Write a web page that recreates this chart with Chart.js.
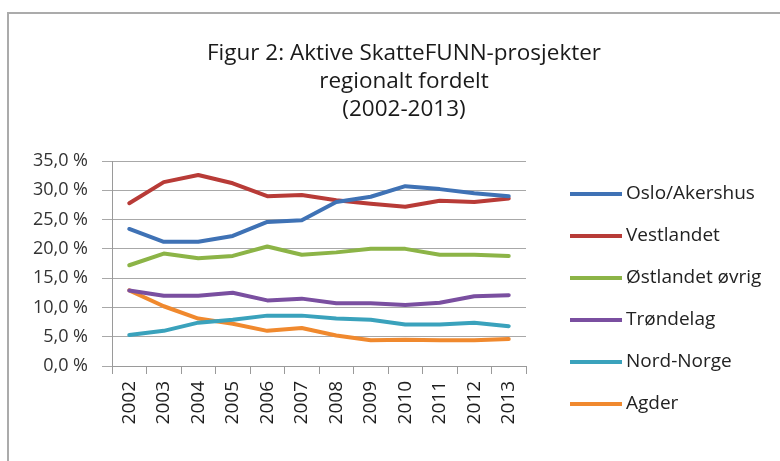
<!DOCTYPE html>
<html>
<head>
<meta charset="utf-8">
<script src="https://cdn.jsdelivr.net/npm/chart.js@4"></script>
<style>
    body { margin: 0; background: #fff; }
    .ramme { position: absolute; left: 7px; top: 12px; width: 800px; height: 460px; border-left: 2px solid #ababab; border-top: 2px solid #ababab; }
    #graf { position: absolute; left: 0; top: 0; }
</style>
</head>
<body>
<div class="ramme"></div>
<canvas id="graf" width="780" height="461"></canvas>
<script>
// Data lest av fra figuren (andel aktive prosjekter, %)
const aar = ['2002', '2003', '2004', '2005', '2006', '2007', '2008', '2009', '2010', '2011', '2012', '2013'];
const regioner = ['Oslo/Akershus', 'Vestlandet', 'Østlandet øvrig', 'Trøndelag', 'Nord-Norge', 'Agder'];
const osloAkershus = [23.4, 21.2, 21.2, 22.2, 24.6, 24.9, 28.0, 28.9, 30.7, 30.2, 29.5, 29.0];
const vestlandet = [27.8, 31.4, 32.6, 31.2, 29.0, 29.2, 28.3, 27.7, 27.2, 28.2, 28.0, 28.6];
const ostlandetOvrig = [17.2, 19.2, 18.4, 18.8, 20.4, 19.0, 19.4, 20.0, 20.0, 19.0, 19.0, 18.8];
const trondelag = [12.9, 12.0, 12.0, 12.5, 11.2, 11.5, 10.7, 10.7, 10.4, 10.8, 11.9, 12.1];
const nordNorge = [5.3, 6.0, 7.4, 7.9, 8.6, 8.6, 8.1, 7.9, 7.1, 7.1, 7.4, 6.8];
const agder = [12.9, 10.2, 8.1, 7.2, 6.0, 6.5, 5.2, 4.4, 4.5, 4.4, 4.4, 4.6];
const yTicks = [0, 5, 10, 15, 20, 25, 30, 35];
const tittel = ['Figur 2: Aktive SkatteFUNN-prosjekter', 'regionalt fordelt', '(2002-2013)'];

const farger = ['#3f72b5', '#b83b37', '#8cb447', '#7a4fa0', '#3aa2bc', '#f0892e'];
const serier = [osloAkershus, vestlandet, ostlandetOvrig, trondelag, nordNorge, agder];
const fontNavn = '"Open Sans", sans-serif';

// Tittel og forklaring tegnes på lerretet
const tekstPlugin = {
    id: 'tekstPlugin',
    afterDraw(chart) {
        const ctx = chart.ctx;
        ctx.save();
        ctx.fillStyle = '#1a1a1a';
        ctx.textAlign = 'center';
        ctx.textBaseline = 'alphabetic';
        ctx.font = '22.5px ' + fontNavn;
        const linjer = [60, 88, 116];
        tittel.forEach((t, i) => ctx.fillText(t, 404, linjer[i]));

        ctx.textAlign = 'left';
        ctx.textBaseline = 'middle';
        ctx.font = '19px ' + fontNavn;
        chart.data.datasets.forEach((ds, i) => {
            const y = 194 + i * 42;
            ctx.strokeStyle = ds.borderColor;
            ctx.lineWidth = 4;
            ctx.beginPath();
            ctx.moveTo(570, y);
            ctx.lineTo(622, y);
            ctx.stroke();
            ctx.fillStyle = '#222';
            ctx.fillText(ds.label, 626, y);
        });
        ctx.restore();
    }
};

new Chart(document.getElementById('graf'), {
    type: 'line',
    data: {
        labels: aar,
        datasets: regioner.map((navn, i) => ({
            label: navn,
            data: serier[i],
            borderColor: farger[i],
            backgroundColor: farger[i],
            borderWidth: 4,
            pointRadius: 0,
            tension: 0,
            borderJoinStyle: 'round',
            borderCapStyle: 'round'
        }))
    },
    options: {
        responsive: false,
        animation: false,
        layout: { padding: { top: 161, right: 254, bottom: 0, left: 0 } },
        plugins: { legend: { display: false }, title: { display: false }, tooltip: { enabled: false } },
        scales: {
            x: {
                offset: true,
                afterFit: s => { s.height = 95; },
                border: { color: '#9a9a9a', width: 1 },
                grid: { drawOnChartArea: false, offset: true, tickLength: 8, color: '#9a9a9a' },
                ticks: { minRotation: 90, maxRotation: 90, padding: 7, color: '#1e1e1e', font: { family: fontNavn, size: 19 } }
            },
            y: {
                min: 0,
                max: 35,
                afterFit: s => { s.width = 112; },
                afterBuildTicks: s => { s.ticks = yTicks.map(v => ({ value: v })); },
                border: { color: '#9a9a9a', width: 1 },
                grid: { color: '#a8a8a8', lineWidth: 1, tickLength: 10 },
                ticks: {
                    padding: 14,
                    color: '#333',
                    font: { family: fontNavn, size: 18 },
                    callback: v => v.toFixed(1).replace('.', ',') + ' %'
                }
            }
        }
    },
    plugins: [tekstPlugin]
});
</script>
</body>
</html>
